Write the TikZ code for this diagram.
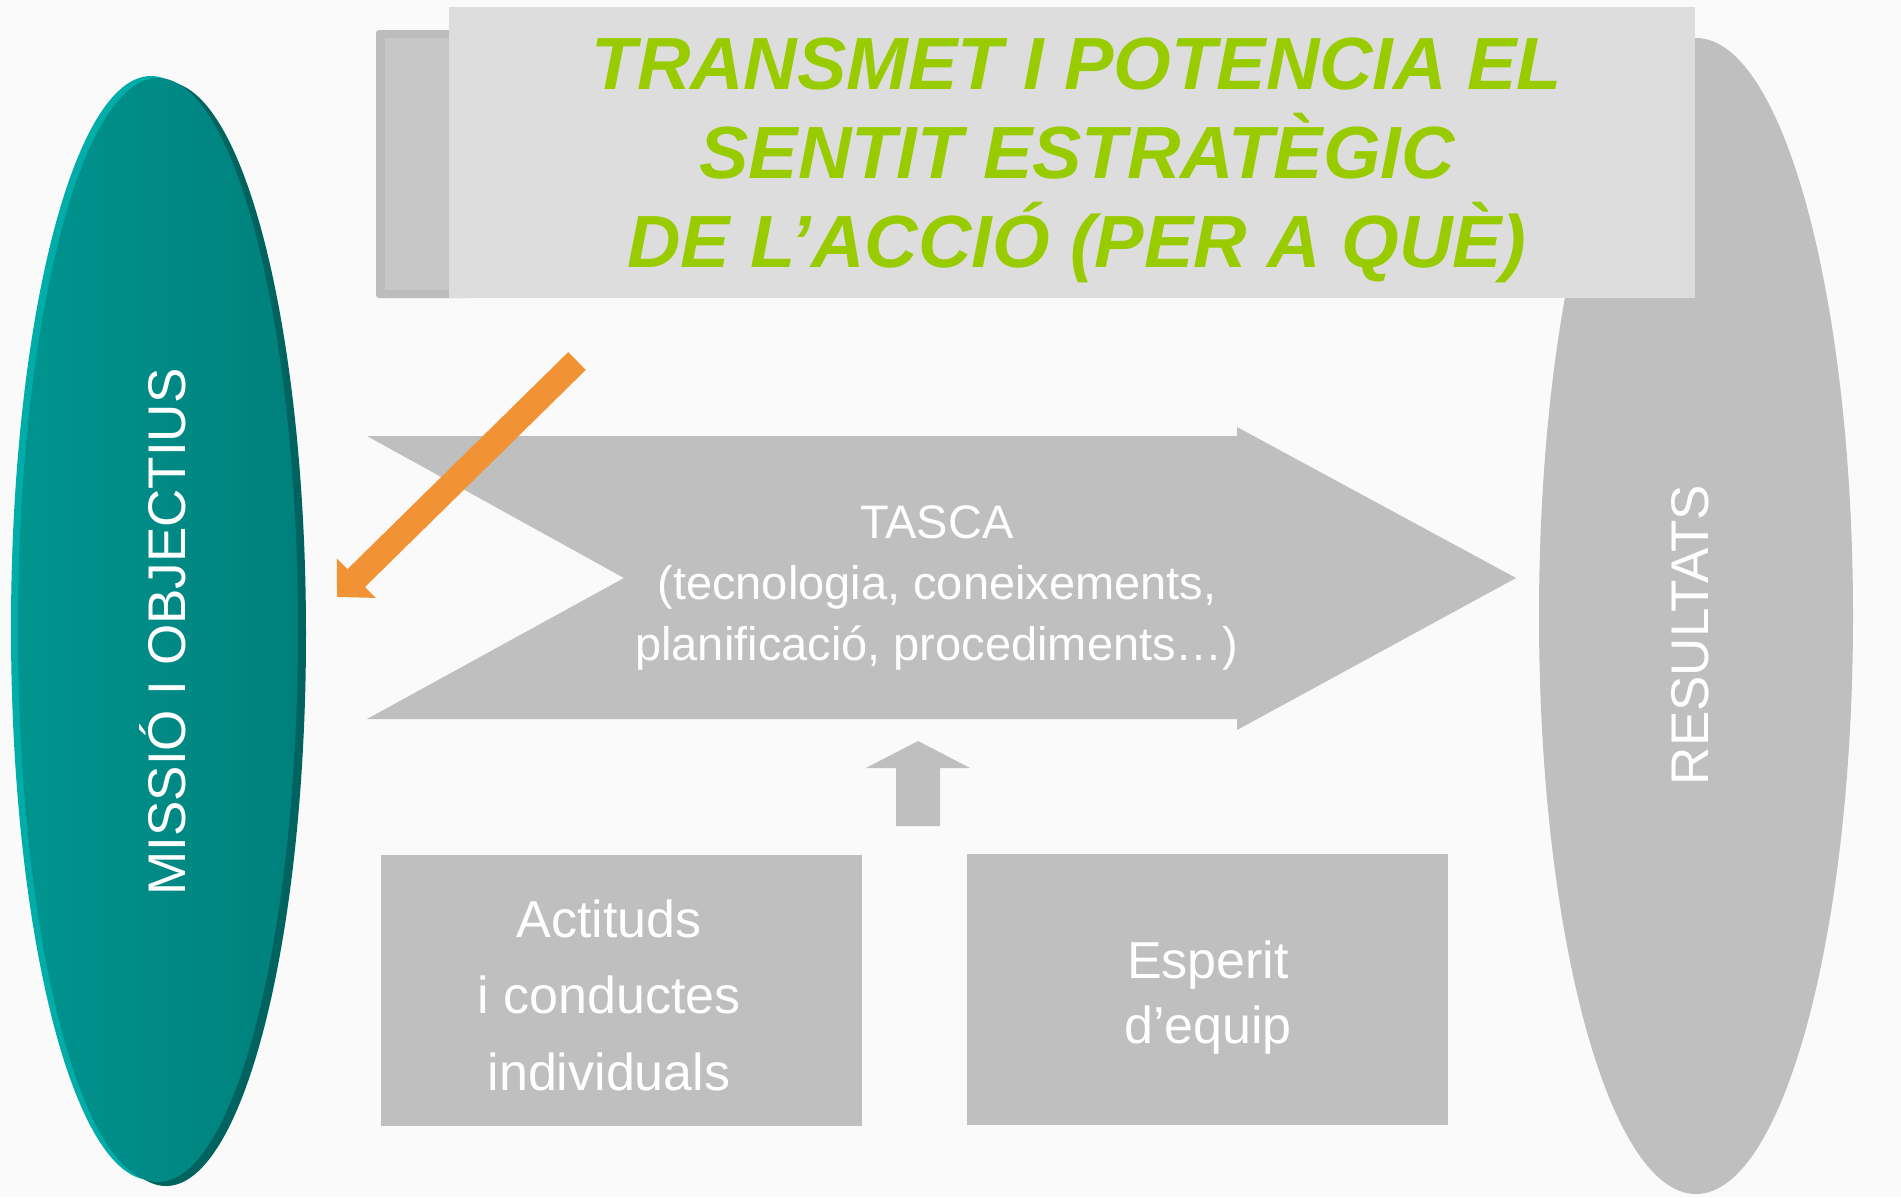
\documentclass[tikz,border=0pt]{standalone}
\usepackage{fontspec}
\setmainfont{Liberation Sans}
\usepackage{tikz}
\usetikzlibrary{arrows.meta}
\usetikzlibrary{shapes.geometric}
\usetikzlibrary{positioning}

\definecolor{fons}{HTML}{FAFAFA}
\definecolor{gris}{HTML}{BFBFBF}
\definecolor{grisclar}{HTML}{DDDDDD}
\definecolor{grisfosc}{HTML}{BCBCBC}
\definecolor{grismig}{HTML}{C7C7C7}
\definecolor{verd}{HTML}{99CC00}
\definecolor{turqclar}{HTML}{00ADA8}
\definecolor{turqesq}{HTML}{00948F}
\definecolor{turqdre}{HTML}{00807C}
\definecolor{turqfosc}{HTML}{006360}
\definecolor{taronja}{HTML}{F19334}

\begin{document}
\begin{tikzpicture}[
    x=1pt, y=-1pt,
    caixa/.style={fill=gris, minimum width=481pt, minimum height=271pt, inner sep=0pt},
    blanc/.style={text=white, align=center},
    vertical/.style={text=white, rotate=90, font=\fontsize{53}{64}\selectfont},
  ]

    \fill [fons] (0, 0) rectangle (1901, 1197);
    \useasboundingbox (0, 0) rectangle (1901, 1197);

    % missio i objectius
    \fill [turqclar] (151, 628) ellipse [x radius=140, y radius=552];
    \fill [turqfosc] (166, 634) ellipse [x radius=140, y radius=552];
    \node [ellipse, inner sep=0pt, minimum width=280pt, minimum height=1104pt,
      left color=turqesq, right color=turqdre] (missio) at (158, 630) {};
    \node [vertical] (missiotxt) at (163, 632) {MISSIÓ I OBJECTIUS};

    % resultats
    \node [ellipse, inner sep=0pt, minimum width=314pt, minimum height=1156pt,
      fill=gris] (resultats) at (1696, 616) {};
    \node [vertical] (resultatstxt) at (1690, 635) {RESULTATS};

    % titol
    \fill [grisfosc, rounded corners=3pt] (376, 30) rectangle (470, 298);
    \fill [grismig] (385, 38) rectangle (470, 290);
    \node [fill=grisclar, inner sep=0pt, minimum width=1246pt,
      minimum height=291pt] (titol) at (1072, 152) {};
    \node [text=verd, align=center,
      font=\fontsize{74}{89}\selectfont\bfseries\itshape] (titoltxt)
    at (1077, 160)
    {TRANSMET I POTENCIA EL\\SENTIT ESTRATÈGIC\\DE L’ACCIÓ (PER A QUÈ)};

    % tasca
    \fill [gris] (367, 436) -- (1237, 436) -- (1237, 427) -- (1516, 578)
    -- (1237, 730) -- (1237, 719) -- (367, 719) -- (624, 578) -- cycle;
    \node [blanc, font=\fontsize{47}{61}\selectfont] (tasca) at (937, 588)
    {TASCA\\(tecnologia, coneixements,\\planificació, procediments…)};

    \fill [gris] (918, 741) -- (970, 768) -- (940, 768) -- (940, 826)
    -- (896, 826) -- (896, 768) -- (866, 768) -- cycle;

    % actituds i esperit
    \node [caixa] (actituds) at (621, 990) {};
    \node [blanc, font=\fontsize{52}{76.5}\selectfont] (actitudstxt)
    at (609, 995) {Actituds\\i conductes\\individuals};

    \node [caixa] (esperit) at (1207, 989) {};
    \node [blanc, font=\fontsize{52}{65}\selectfont] (esperittxt)
    at (1208, 998) {Esperit\\d’equip};

    % fletxa taronja
    \coordinate (orig) at (577, 361);
    \coordinate (fi) at (337, 597);
    \draw [taronja, line width=25pt, -{Triangle[width=54pt, length=27pt]}]
    (orig) -- (fi);

  \end{tikzpicture}
\end{document}
